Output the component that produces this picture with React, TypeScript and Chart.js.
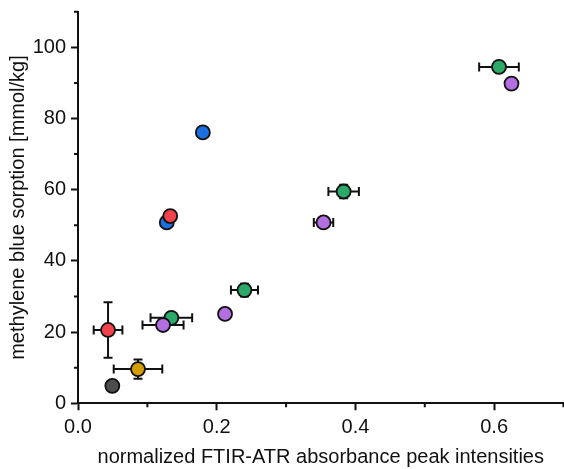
import React, { useEffect, useRef } from "react";
import { Chart, registerables } from "chart.js";

Chart.register(...registerables);

// ---- data ----
const blackX = [0.0495];
const blackY = [4.9];

const goldX = [0.0865];
const goldY = [9.6];
const goldXErr = [0.035];
const goldYErr = [2.7];

const blueX = [0.128, 0.18];
const blueY = [50.8, 76.1];

const redX = [0.0433, 0.133];
const redY = [20.6, 52.6];
const redXErr = [0.0207, 0];
const redYErr = [7.8, 0];

const greenX = [0.1346, 0.24, 0.383, 0.607];
const greenY = [24.0, 31.8, 59.5, 94.5];
const greenXErr = [0.03, 0.0195, 0.022, 0.0286];
const greenYErr = [0, 1.8, 1.9, 0];

const purpleX = [0.1226, 0.212, 0.354, 0.625];
const purpleY = [22.0, 25.1, 50.8, 89.8];
const purpleXErr = [0.0296, 0, 0.014, 0];
const purpleYErr = [0, 0, 0, 0];

const xMajorTicks = [0, 0.2, 0.4, 0.6];
const xMinorTicks = [0.1, 0.3, 0.5, 0.7];
const yMajorTicks = [0, 20, 40, 60, 80, 100];
const yMinorTicks = [10, 30, 50, 70, 90, 110];

const xTitle = "normalized FTIR-ATR absorbance peak intensities";
const yTitle = "methylene blue sorption [mmol/kg]";

const FONT = "'Liberation Sans', Arial, sans-serif";

function pts(xs: number[], ys: number[], xe?: number[], ye?: number[]) {
  return xs.map((x, i) => ({
    x,
    y: ys[i],
    xErr: xe ? xe[i] : 0,
    yErr: ye ? ye[i] : 0,
  }));
}

const errorBarPlugin = {
  id: "errorBars",
  beforeDatasetDraw(chart: any, args: any) {
    const ds = chart.data.datasets[args.index];
    const xs = chart.scales.x;
    const ys = chart.scales.y;
    const ctx = chart.ctx;
    const cap = 4.5;
    ctx.save();
    ctx.strokeStyle = "#111";
    ctx.lineWidth = 2;
    ds.data.forEach((p: any) => {
      const cx = xs.getPixelForValue(p.x);
      const cy = ys.getPixelForValue(p.y);
      if (p.xErr) {
        const l = xs.getPixelForValue(p.x - p.xErr);
        const r = xs.getPixelForValue(p.x + p.xErr);
        ctx.beginPath();
        ctx.moveTo(l, cy);
        ctx.lineTo(r, cy);
        ctx.moveTo(l, cy - cap);
        ctx.lineTo(l, cy + cap);
        ctx.moveTo(r, cy - cap);
        ctx.lineTo(r, cy + cap);
        ctx.stroke();
      }
      if (p.yErr) {
        const t = ys.getPixelForValue(p.y + p.yErr);
        const b = ys.getPixelForValue(p.y - p.yErr);
        ctx.beginPath();
        ctx.moveTo(cx, t);
        ctx.lineTo(cx, b);
        ctx.moveTo(cx - cap, t);
        ctx.lineTo(cx + cap, t);
        ctx.moveTo(cx - cap, b);
        ctx.lineTo(cx + cap, b);
        ctx.stroke();
      }
    });
    ctx.restore();
  },
};

const minorTickPlugin = {
  id: "minorTicks",
  afterDraw(chart: any) {
    const xs = chart.scales.x;
    const ys = chart.scales.y;
    const ctx = chart.ctx;
    const len = 4;
    const area = chart.chartArea;
    ctx.save();
    ctx.strokeStyle = "#111";
    ctx.lineWidth = 2;
    ctx.beginPath();
    xMinorTicks.forEach((v) => {
      const px = xs.getPixelForValue(v);
      ctx.moveTo(px, area.bottom);
      ctx.lineTo(px, area.bottom + len);
    });
    yMinorTicks.forEach((v) => {
      const py = ys.getPixelForValue(v);
      ctx.moveTo(area.left, py);
      ctx.lineTo(area.left - len, py);
    });
    ctx.stroke();
    ctx.restore();
  },
};

export default function App() {
  const ref = useRef<HTMLCanvasElement | null>(null);

  useEffect(() => {
    document.body.style.margin = "0";
    const canvas = ref.current;
    if (!canvas) return;
    const mk = (label: string, color: string, data: any[]) => ({
      label,
      data,
      backgroundColor: color,
      borderColor: "#111",
      borderWidth: 1.8,
      pointRadius: 7,
      pointHoverRadius: 7,
      showLine: false,
      clip: false,
    });
    // Chart.js draws the first dataset on top, so list front-most first
    const chart = new Chart(canvas, {
      type: "scatter",
      data: {
        datasets: [
          mk("purple", "#b36fe2", pts(purpleX, purpleY, purpleXErr, purpleYErr)),
          mk("green", "#2ca868", pts(greenX, greenY, greenXErr, greenYErr)),
          mk("red", "#f2434c", pts(redX, redY, redXErr, redYErr)),
          mk("blue", "#1c6fe0", pts(blueX, blueY)),
          mk("gold", "#d39e00", pts(goldX, goldY, goldXErr, goldYErr)),
          mk("black", "#4d4d4d", pts(blackX, blackY)),
        ],
      },
      options: {
        animation: false,
        responsive: false,
        devicePixelRatio: 1,
        layout: { autoPadding: false, padding: { top: 11.7, right: 0.5, left: 0, bottom: 0 } },
        plugins: {
          legend: { display: false },
          tooltip: { enabled: false },
        },
        scales: {
          x: {
            type: "linear",
            min: 0,
            max: 0.7,
            afterFit: (s: any) => {
              s.height = 65.7;
              s.paddingLeft = 0;
              s.paddingRight = 0;
            },
            afterBuildTicks: (s: any) => {
              s.ticks = xMajorTicks.map((v) => ({ value: v }));
            },
            border: { display: true, color: "#111", width: 2 },
            grid: {
              drawOnChartArea: false,
              drawTicks: true,
              tickLength: 7,
              tickWidth: 2,
              tickColor: "#111",
            },
            ticks: {
              padding: 5,
              color: "#111",
              maxRotation: 0,
              font: { family: FONT, size: 20 },
              callback: (v: any) => Number(v).toFixed(1),
            },
            title: {
              display: true,
              text: xTitle,
              color: "#111",
              font: { family: FONT, size: 20 },
              padding: { top: 0, bottom: 0 },
            },
          },
          y: {
            type: "linear",
            min: 0,
            max: 110,
            afterFit: (s: any) => {
              s.width = 78;
              s.paddingTop = 0;
              s.paddingBottom = 0;
            },
            afterBuildTicks: (s: any) => {
              s.ticks = yMajorTicks.map((v) => ({ value: v }));
            },
            border: { display: true, color: "#111", width: 2 },
            grid: {
              drawOnChartArea: false,
              drawTicks: true,
              tickLength: 7,
              tickWidth: 2,
              tickColor: "#111",
            },
            ticks: {
              padding: 5,
              color: "#111",
              font: { family: FONT, size: 20 },
              callback: (v: any) => String(v),
            },
            title: {
              display: true,
              text: yTitle,
              color: "#111",
              font: { family: FONT, size: 20 },
              padding: { top: 6, bottom: 0 },
            },
          },
        },
      },
      plugins: [errorBarPlugin, minorTickPlugin],
    } as any);
    return () => chart.destroy();
  }, []);

  return (
    <div style={{ position: "absolute", left: 0, top: 0, width: 564, height: 469 }}>
      <canvas ref={ref} width={564} height={469} style={{ display: "block", width: 564, height: 469 }} />
    </div>
  );
}
